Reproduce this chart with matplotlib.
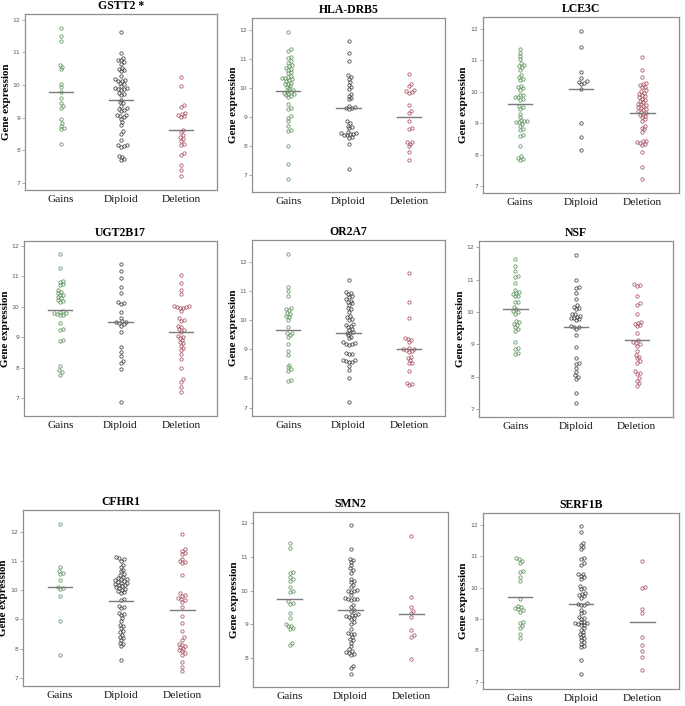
import numpy as np
import matplotlib
matplotlib.use("Agg")
import matplotlib.pyplot as plt

# ---------------- data ----------------
genes = ["GSTT2 *", "HLA-DRB5", "LCE3C", "UGT2B17", "OR2A7", "NSF", "CFHR1", "SMN2", "SERF1B"]
groups = ["Gains", "Diploid", "Deletion"]

gstt2_gains = [11.74, 11.51, 11.35, 10.62, 10.57, 10.49, 10.04, 9.94, 9.78, 9.60, 9.45, 9.37, 9.30,
               8.96, 8.84, 8.76, 8.68, 8.65, 8.20]
gstt2_diploid = [11.62, 10.98, 10.83, 10.78, 10.76, 10.70, 10.65, 10.52, 10.50, 10.45, 10.43, 10.27,
                 10.19, 10.17, 10.14, 10.12, 10.06, 10.04, 9.98, 9.92, 9.91, 9.89, 9.88, 9.86, 9.76,
                 9.74, 9.69, 9.55, 9.47, 9.45, 9.37, 9.30, 9.28, 9.24, 9.22, 9.09, 9.07, 9.04, 9.02,
                 8.96, 8.87, 8.78, 8.58, 8.51, 8.33, 8.17, 8.15, 8.12, 8.10, 7.82, 7.80, 7.73, 7.71]
gstt2_deletion = [10.24, 9.98, 9.38, 9.32, 9.15, 9.12, 9.08, 9.05, 9.03, 8.62, 8.55, 8.48, 8.42,
                  8.36, 8.28, 8.20, 8.15, 7.92, 7.87, 7.54, 7.39, 7.22]

hla_gains = [11.92, 11.33, 11.28, 11.08, 11.04, 10.92, 10.85, 10.78, 10.74, 10.70, 10.66, 10.62,
             10.55, 10.50, 10.40, 10.37, 10.35, 10.33, 10.30, 10.27, 10.24, 10.18, 10.15, 10.12,
             10.08, 10.04, 9.98, 9.92, 9.90, 9.86, 9.82, 9.80, 9.78, 9.74, 9.72, 9.68, 9.45, 9.30,
             9.26, 9.02, 8.96, 8.85, 8.67, 8.55, 8.52, 8.00, 7.38, 6.86]
hla_diploid = [11.61, 11.22, 10.94, 10.45, 10.38, 10.30, 10.20, 10.10, 10.02, 9.95, 9.78, 9.72,
               9.66, 9.60, 9.38, 9.33, 9.30, 9.29, 9.27, 8.85, 8.78, 8.70, 8.64, 8.60, 8.48, 8.45,
               8.44, 8.42, 8.40, 8.38, 8.36, 8.32, 8.28, 8.06, 7.20]
hla_deletion = [10.48, 10.12, 10.06, 9.92, 9.88, 9.85, 9.82, 9.42, 9.22, 9.14, 8.85, 8.62, 8.58,
                8.15, 8.12, 8.08, 7.98, 7.78, 7.52]

lce3c_gains = [11.34, 11.24, 11.13, 11.03, 10.90, 10.86, 10.82, 10.78, 10.70, 10.53, 10.45, 10.40,
               10.36, 10.18, 10.14, 10.10, 10.06, 9.90, 9.88, 9.84, 9.82, 9.78, 9.74, 9.55, 9.50,
               9.46, 9.30, 9.20, 9.10, 9.08, 9.06, 9.04, 9.02, 8.98, 8.90, 8.82, 8.78, 8.62, 8.58,
               8.27, 7.95, 7.90, 7.85, 7.82]
lce3c_diploid = [11.94, 11.43, 10.63, 10.42, 10.33, 10.30, 10.26, 10.24, 10.07, 8.99, 8.56, 8.14]
lce3c_deletion = [11.09, 10.69, 10.45, 10.26, 10.24, 10.22, 10.16, 10.14, 10.05, 10.02, 9.97, 9.92,
                  9.89, 9.85, 9.82, 9.78, 9.74, 9.70, 9.66, 9.62, 9.60, 9.56, 9.54, 9.50, 9.48,
                  9.44, 9.42, 9.38, 9.36, 9.33, 9.30, 9.26, 9.22, 9.18, 9.12, 9.08, 8.90, 8.86,
                  8.80, 8.72, 8.44, 8.42, 8.40, 8.38, 8.35, 8.32, 8.09, 7.61, 7.21]

ugt_gains = [11.74, 11.28, 10.85, 10.80, 10.75, 10.70, 10.55, 10.48, 10.45, 10.40, 10.38, 10.32,
             10.28, 10.22, 10.18, 10.14, 9.86, 9.84, 9.80, 9.78, 9.76, 9.74, 9.72, 9.46, 9.26,
             9.22, 8.90, 8.86, 8.05, 7.92, 7.85, 7.76]
ugt_diploid = [11.41, 11.16, 10.94, 10.64, 10.46, 10.14, 10.12, 10.10, 9.84, 9.62, 9.52, 9.50,
               9.49, 9.46, 9.42, 9.37, 9.16, 8.69, 8.52, 8.38, 8.23, 8.16, 7.94, 6.88]
ugt_deletion = [11.04, 10.77, 10.55, 10.42, 10.04, 10.02, 10.00, 9.98, 9.97, 9.95, 9.87, 9.62,
                9.58, 9.53, 9.37, 9.33, 9.26, 9.22, 9.18, 9.04, 9.00, 8.96, 8.90, 8.84, 8.80,
                8.72, 8.64, 8.58, 8.44, 8.28, 8.00, 7.62, 7.54, 7.37, 7.21]

or2a7_gains = [12.27, 11.15, 11.00, 10.83, 10.42, 10.38, 10.34, 10.26, 10.22, 10.16, 10.12, 10.02,
               9.78, 9.58, 9.55, 9.50, 9.42, 9.18, 8.94, 8.82, 8.48, 8.38, 8.32, 8.25, 7.95, 7.90]
or2a7_diploid = [11.40, 10.98, 10.95, 10.90, 10.85, 10.80, 10.72, 10.68, 10.64, 10.58, 10.54,
                 10.42, 10.38, 10.30, 10.14, 10.10, 10.04, 10.02, 9.86, 9.84, 9.80, 9.76, 9.70,
                 9.66, 9.60, 9.58, 9.56, 9.48, 9.44, 9.38, 9.24, 9.22, 9.20, 9.18, 9.16, 8.88,
                 8.85, 8.84, 8.64, 8.62, 8.60, 8.58, 8.56, 8.43, 8.29, 8.00, 7.20]
or2a7_deletion = [11.61, 10.64, 10.07, 9.40, 9.36, 9.32, 9.26, 9.05, 9.02, 9.00, 8.98, 8.96, 8.92,
                  8.74, 8.70, 8.62, 8.54, 8.52, 8.25, 7.84, 7.80, 7.76]

nsf_gains = [11.62, 11.42, 11.27, 11.12, 11.08, 10.88, 10.69, 10.62, 10.58, 10.55, 10.50, 10.48,
             10.32, 10.30, 10.16, 10.08, 10.02, 10.00, 9.94, 9.72, 9.68, 9.64, 9.60, 9.52, 9.48,
             9.42, 9.08, 8.88, 8.84, 8.72, 8.70]
nsf_diploid = [11.75, 11.00, 10.78, 10.74, 10.57, 10.39, 10.20, 10.16, 10.12, 10.10, 9.94, 9.92,
               9.88, 9.84, 9.82, 9.80, 9.78, 9.74, 9.56, 9.54, 9.52, 9.46, 9.28, 8.91, 8.56, 8.42,
               8.38, 8.25, 8.15, 8.05, 8.00, 7.92, 7.50, 7.19]
nsf_deletion = [10.86, 10.84, 10.80, 10.49, 10.26, 10.22, 9.93, 9.70, 9.66, 9.62, 9.58, 9.55, 9.35,
                9.12, 9.08, 9.04, 9.00, 8.95, 8.80, 8.66, 8.62, 8.56, 8.48, 8.43, 8.16, 8.12, 8.08,
                7.95, 7.87, 7.79, 7.71]

cfhr1_gains = [12.29, 10.80, 10.67, 10.60, 10.57, 10.36, 10.12, 10.08, 10.04, 9.81, 8.96, 7.78]
cfhr1_diploid = [11.16, 11.12, 11.08, 11.03, 10.88, 10.80, 10.72, 10.66, 10.56, 10.52, 10.46, 10.42,
                 10.40, 10.38, 10.36, 10.34, 10.30, 10.27, 10.25, 10.22, 10.20, 10.18, 10.15,
                 10.12, 10.08, 10.05, 10.02, 9.98, 9.94, 9.92, 9.70, 9.68, 9.48, 9.44, 9.40, 9.22,
                 9.18, 9.14, 9.04, 8.94, 8.80, 8.76, 8.70, 8.60, 8.56, 8.48, 8.40, 8.36, 8.30,
                 8.20, 8.16, 8.08, 7.61]
cfhr1_deletion = [11.94, 11.42, 11.36, 11.30, 11.24, 11.07, 11.00, 10.97, 10.93, 10.53, 9.90, 9.86,
                  9.82, 9.74, 9.70, 9.66, 9.60, 9.42, 9.12, 8.89, 8.62, 8.39, 8.30, 8.16, 8.12,
                  8.08, 8.04, 8.00, 7.94, 7.90, 7.84, 7.78, 7.52, 7.38, 7.21]

smn2_gains = [11.42, 11.28, 10.56, 10.52, 10.40, 10.34, 10.30, 10.10, 10.00, 9.96, 9.68, 9.64, 9.60,
              9.34, 9.17, 9.00, 8.96, 8.94, 8.88, 8.86, 8.45, 8.38]
smn2_diploid = [11.95, 11.23, 10.95, 10.92, 10.86, 10.76, 10.66, 10.60, 10.53, 10.36, 10.30, 10.26,
                10.16, 10.11, 10.02, 10.00, 9.98, 9.96, 9.87, 9.78, 9.76, 9.75, 9.74, 9.72, 9.57,
                9.52, 9.42, 9.40, 9.30, 9.28, 9.27, 9.25, 9.22, 9.18, 9.14, 9.06, 9.02, 8.87, 8.74,
                8.72, 8.70, 8.62, 8.56, 8.52, 8.45, 8.35, 8.25, 8.20, 8.18, 8.15, 8.11, 8.07,
                7.75, 7.70, 7.53]
smn2_deletion = [11.63, 9.82, 9.52, 9.40, 9.32, 9.22, 8.84, 8.67, 8.62, 7.95]

serf1b_gains = [10.94, 10.90, 10.86, 10.80, 10.54, 10.50, 10.35, 10.22, 9.63, 9.42, 9.38, 9.36,
                9.32, 9.28, 9.23, 8.90, 8.86, 8.78, 8.72, 8.52, 8.38]
serf1b_diploid = [11.95, 11.76, 11.42, 11.36, 11.30, 11.22, 10.96, 10.92, 10.78, 10.72, 10.44,
                  10.42, 10.38, 10.34, 10.28, 10.05, 10.00, 9.96, 9.84, 9.80, 9.76, 9.72, 9.68,
                  9.52, 9.48, 9.46, 9.44, 9.28, 9.22, 9.18, 9.08, 9.04, 9.00, 8.92, 8.90, 8.88,
                  8.86, 8.84, 8.82, 8.80, 8.70, 8.66, 8.58, 8.52, 8.48, 8.42, 8.38, 8.32, 8.26,
                  8.22, 8.14, 8.10, 7.71, 7.24]
serf1b_deletion = [10.85, 10.03, 10.00, 9.32, 9.20, 8.44, 8.16, 7.98, 7.80, 7.39]

# group mean lines
means_gstt2 = [9.78, 9.55, 8.62]
means_hla = [9.90, 9.29, 8.98]
means_lce3c = [9.61, 10.09, 9.33]
means_ugt = [9.89, 9.49, 9.18]
means_or2a7 = [9.66, 9.58, 9.02]
means_nsf = [10.09, 9.52, 9.13]
means_cfhr1 = [10.13, 9.65, 9.33]
means_smn2 = [9.74, 9.42, 9.29]
means_serf1b = [9.69, 9.48, 8.89]

panel_data = [
    (gstt2_gains, gstt2_diploid, gstt2_deletion, means_gstt2),
    (hla_gains, hla_diploid, hla_deletion, means_hla),
    (lce3c_gains, lce3c_diploid, lce3c_deletion, means_lce3c),
    (ugt_gains, ugt_diploid, ugt_deletion, means_ugt),
    (or2a7_gains, or2a7_diploid, or2a7_deletion, means_or2a7),
    (nsf_gains, nsf_diploid, nsf_deletion, means_nsf),
    (cfhr1_gains, cfhr1_diploid, cfhr1_deletion, means_cfhr1),
    (smn2_gains, smn2_diploid, smn2_deletion, means_smn2),
    (serf1b_gains, serf1b_diploid, serf1b_deletion, means_serf1b),
]

# ---------------- layout (pixels: left, top, right, bottom) ----------------
W, H = 685, 706
rects = [
    (25, 14, 217, 190), (252, 18, 445, 192), (483, 17, 679, 193),
    (24, 241, 217, 416), (252, 240, 445, 416), (479, 241, 673, 417),
    (23, 510, 219, 686), (253, 512, 448, 687), (483, 513, 679, 689),
]
ylims = [
    (6.785, 12.18), (6.41, 12.41), (6.78, 12.37),
    (6.41, 12.16), (6.71, 12.76), (6.75, 12.19),
    (6.71, 12.77), (7.13, 12.34), (6.77, 12.38),
]
colors = ["#5c935c", "#404040", "#a65260"]
XLIM = (0.4, 3.6)

serif = ["Liberation Serif", "DejaVu Serif"]


def swarm_px(vals, ppu, d=3.0, step=0.5):
    ys = np.asarray(vals, dtype=float) * ppu
    order = np.argsort(ys)
    placed = []
    offs = np.zeros(len(ys))
    cands = [0.0]
    for k in range(1, 120):
        cands += [k * step, -k * step]
    for i in order:
        y = ys[i]
        for c in cands:
            ok = True
            for (px, py) in placed:
                if abs(py - y) < d and (px - c) ** 2 + (py - y) ** 2 < d * d:
                    ok = False
                    break
            if ok:
                offs[i] = c
                placed.append((c, y))
                break
    return offs


fig = plt.figure(figsize=(W / 100, H / 100), dpi=100)

for gene, (l, t, r, b), yl, pdata in zip(genes, rects, ylims, panel_data):
    ax = fig.add_axes([l / W, 1 - b / H, (r - l) / W, (b - t) / H])
    ax.set_xlim(*XLIM)
    ax.set_ylim(*yl)
    ppu_y = (b - t) / (yl[1] - yl[0])
    ppu_x = (r - l) / (XLIM[1] - XLIM[0])
    vals3 = pdata[:3]
    means = pdata[3]
    for i, (vals, col) in enumerate(zip(vals3, colors)):
        xpos = i + 1
        offs = swarm_px(vals, ppu_y) / ppu_x
        ax.plot(xpos + offs, vals, linestyle="none", marker="o", ms=2.4,
                mfc="none", mec=col, mew=0.55, zorder=3)
        ax.plot([xpos - 0.2, xpos + 0.2], [means[i], means[i]],
                color="#7a7a7a", lw=1.0, zorder=4)
    ax.set_yticks([v for v in range(7, 13) if yl[0] <= v <= yl[1]])
    ax.set_xticks([1, 2, 3])
    ax.set_xticklabels(groups, fontfamily=serif, fontsize=8.2, color="#111111")
    ax.tick_params(axis="x", length=0, pad=3.5)
    ax.tick_params(axis="y", length=2, width=0.5, color="#888888",
                   labelsize=4.3, labelcolor="#555555", pad=1.5)
    for sp in ax.spines.values():
        sp.set_color("#8f8f8f")
        sp.set_linewidth(0.9)
    ax.set_title(gene, fontfamily=serif, fontweight="bold", fontsize=8.5, pad=3.5)
    ax.set_ylabel("Gene expression", fontfamily=serif, fontweight="bold", fontsize=7.9)
    ax.yaxis.set_label_coords(-0.074, 0.5)

fig.savefig("out.png", dpi=100, facecolor="white")
